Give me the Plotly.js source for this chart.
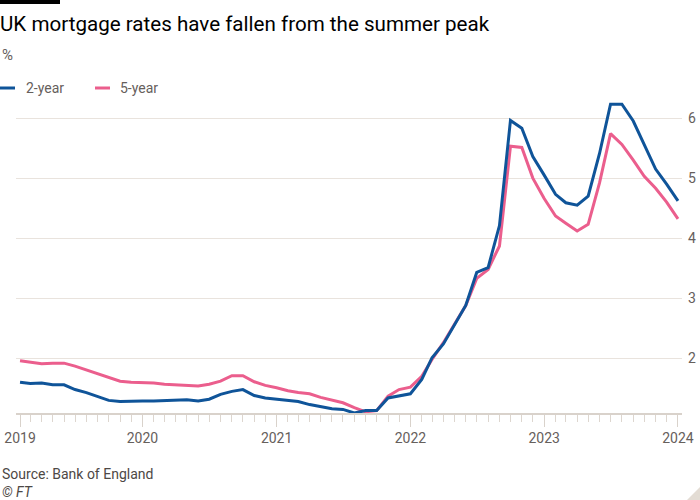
<!DOCTYPE html>
<html>
<head>
<meta charset="utf-8">
<script src="https://cdn.plot.ly/plotly-3.0.1.min.js"></script>
<style>html,body{margin:0;padding:0;background:#fff;}#chart{width:700px;height:500px;}</style>
</head>
<body>
<div id="chart"></div>
<script>
// ---- Data (monthly) ----
const months = [
  '2019-02-01','2019-03-01','2019-04-01','2019-05-01','2019-06-01','2019-07-01','2019-08-01','2019-09-01','2019-10-01','2019-11-01','2019-12-01',
  '2020-01-01','2020-02-01','2020-03-01','2020-04-01','2020-05-01','2020-06-01','2020-07-01','2020-08-01','2020-09-01','2020-10-01','2020-11-01','2020-12-01',
  '2021-01-01','2021-02-01','2021-03-01','2021-04-01','2021-05-01','2021-06-01','2021-07-01','2021-08-01','2021-09-01','2021-10-01','2021-11-01','2021-12-01',
  '2022-01-01','2022-02-01','2022-03-01','2022-04-01','2022-05-01','2022-06-01','2022-07-01','2022-08-01','2022-09-01','2022-10-01','2022-11-01','2022-12-01',
  '2023-01-01','2023-02-01','2023-03-01','2023-04-01','2023-05-01','2023-06-01','2023-07-01','2023-08-01','2023-09-01','2023-10-01','2023-11-01','2023-12-01',
  '2024-01-01'
];
const twoYear = [
  1.60,1.58,1.59,1.56,1.56,1.48,1.43,1.37,1.30,1.28,1.29,
  1.29,1.29,1.30,1.31,1.31,1.29,1.32,1.40,1.45,1.48,1.38,1.34,
  1.32,1.29,1.28,1.23,1.19,1.16,1.15,1.09,1.13,1.13,1.34,1.38,
  1.41,1.65,2.01,2.24,2.55,2.88,3.43,3.51,4.21,5.96,5.83,5.36,
  5.05,4.73,4.59,4.55,4.70,5.41,6.23,6.23,5.95,5.55,5.15,4.90,
  4.62
];
const fiveYear = [
  1.96,1.94,1.91,1.92,1.92,1.87,1.81,1.74,1.68,1.62,1.60,
  1.60,1.59,1.57,1.56,1.55,1.54,1.57,1.62,1.71,1.71,1.61,1.55,
  1.51,1.46,1.43,1.41,1.35,1.30,1.26,1.18,1.11,1.13,1.37,1.48,
  1.52,1.70,1.98,2.26,2.56,2.88,3.33,3.48,3.87,5.53,5.51,5.00,
  4.66,4.37,4.25,4.12,4.23,4.92,5.74,5.56,5.30,5.03,4.83,4.60,
  4.32
];
const xTickVals = ['2019-02-01','2020-01-01','2021-01-01','2022-01-01','2023-01-01','2024-01-01'];
const xTickText = ['2019','2020','2021','2022','2023','2024'];
const yTickVals = [2,3,4,5,6];
const seriesNames = ['2-year','5-year'];

// ---- Styling ----
const BLUE = '#0f5499', PINK = '#eb5e8d', GREY = '#66605c';
const FONT = 'Roboto, "Open Sans", sans-serif';
const M = {l:16, r:18, t:94, b:87};
const W = 700, H = 500;
const pw = W - M.l - M.r, ph = H - M.t - M.b;
const px = v => (v - M.l) / pw;          // pixel x -> paper
const py = v => (H - M.b - v) / ph;      // pixel y -> paper

const traces = [
  {x: months, y: twoYear, name: seriesNames[0], type: 'scatter', mode: 'lines',
   line: {color: BLUE, width: 3}, hoverinfo: 'skip'},
  {x: months, y: fiveYear, name: seriesNames[1], type: 'scatter', mode: 'lines',
   line: {color: PINK, width: 3}, hoverinfo: 'skip'}
];
// draw blue on top as in the reference
const data = [traces[1], traces[0]];

const layout = {
  width: W, height: H,
  margin: M,
  paper_bgcolor: '#ffffff', plot_bgcolor: '#ffffff',
  showlegend: false,
  font: {family: FONT, color: GREY, size: 14},
  title: {text: 'UK mortgage rates have fallen from the summer peak',
          x: 0, xref: 'container', xanchor: 'left',
          y: 1 - 24/H, yref: 'container', yanchor: 'middle',
          font: {family: FONT, size: 20.6, color: '#000000'}, pad: {l: 0, t: 0}},
  xaxis: {
    type: 'date',
    range: ['2019-01-21', '2024-01-12'],
    tickvals: xTickVals, ticktext: xTickText,
    ticks: 'outside', ticklen: 12, tickwidth: 1, tickcolor: '#d9d2cb',
    showline: true, linecolor: '#d9d2cb', linewidth: 1.5,
    showgrid: false, zeroline: false,
    tickfont: {family: FONT, size: 14, color: GREY},
    minor: {tick0: '2019-02-01', dtick: 'M1', ticks: 'outside', ticklen: 7, tickwidth: 1, tickcolor: '#ddd6cf', showgrid: false},
    fixedrange: true
  },
  yaxis: {
    range: [1.09, 6.4],
    side: 'right',
    tickvals: yTickVals,
    ticks: '', showline: false, zeroline: false,
    showgrid: true, gridcolor: '#e9e3dd', gridwidth: 1,
    tickfont: {family: FONT, size: 14, color: GREY},
    ticklabelstandoff: 5,
    fixedrange: true
  },
  shapes: [
    {type: 'rect', xref: 'paper', yref: 'paper', x0: px(0), x1: px(60), y0: py(4), y1: py(0),
     fillcolor: '#000000', line: {width: 0}},
    {type: 'line', xref: 'paper', yref: 'paper', x0: px(0), x1: px(15), y0: py(88), y1: py(88),
     line: {color: BLUE, width: 3}},
    {type: 'line', xref: 'paper', yref: 'paper', x0: px(95), x1: px(110), y0: py(88), y1: py(88),
     line: {color: PINK, width: 3}},
    {type: 'path', xref: 'paper', yref: 'paper',
     path: 'M' + px(700) + ',' + py(487) + ' L' + px(700) + ',' + py(500) + ' L' + px(687) + ',' + py(500) + ' Z',
     fillcolor: '#e3dcd4', line: {width: 0}}
  ],
  annotations: [
    {text: '%', xref: 'paper', yref: 'paper', x: px(0), y: py(55), xanchor: 'left', yanchor: 'middle',
     showarrow: false, font: {family: FONT, size: 15, color: GREY}},
    {text: seriesNames[0], xref: 'paper', yref: 'paper', x: px(24), y: py(88), xanchor: 'left', yanchor: 'middle',
     showarrow: false, font: {family: FONT, size: 14, color: GREY}},
    {text: seriesNames[1], xref: 'paper', yref: 'paper', x: px(118), y: py(88), xanchor: 'left', yanchor: 'middle',
     showarrow: false, font: {family: FONT, size: 14, color: GREY}},
    {text: 'Source: Bank of England', xref: 'paper', yref: 'paper', x: px(0), y: py(474), xanchor: 'left', yanchor: 'middle',
     showarrow: false, font: {family: FONT, size: 14, color: '#4d4845'}},
    {text: '<i>© FT</i>', xref: 'paper', yref: 'paper', x: px(0), y: py(492), xanchor: 'left', yanchor: 'middle',
     showarrow: false, font: {family: FONT, size: 14, color: '#4d4845'}}
  ]
};

Plotly.newPlot('chart', data, layout, {displayModeBar: false, staticPlot: true});
</script>
</body>
</html>
